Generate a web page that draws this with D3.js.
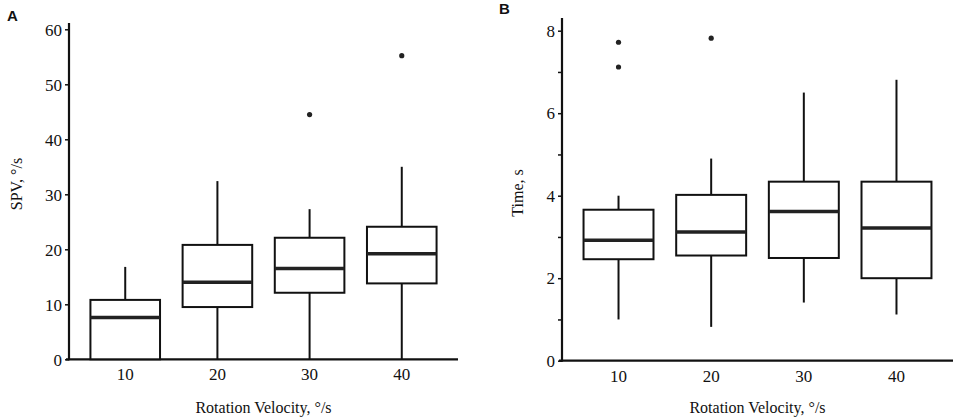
<!DOCTYPE html>
<html>
<head>
<meta charset="utf-8">
<script src="https://cdn.jsdelivr.net/npm/d3@7"></script>
<style>
    body { margin: 0; background: #fff; }
    text { font-family: "Liberation Serif", "DejaVu Serif", serif; fill: #111; }
    .tick text { font-family: "Liberation Serif", "DejaVu Serif", serif; }
    .panel-letter { font-family: "Liberation Sans", Arial, sans-serif; font-weight: bold; }
</style>
</head>
<body>
<div id="chart"></div>
<script>
// categories on the x axis (rotation velocity)
const categories = ["10", "20", "30", "40"];

// panel A: SPV, deg/s
const spvLow = [0, 0, 0, 0];
const spvQ1 = [0, 9.5, 12.1, 13.8];
const spvMedian = [7.6, 14.0, 16.5, 19.2];
const spvQ3 = [10.8, 20.8, 22.1, 24.1];
const spvHigh = [16.8, 32.4, 27.3, 35.0];
const spvOutliers = [["30", 44.5], ["40", 55.2]];
const spvTicks = [0, 10, 20, 30, 40, 50, 60];

// panel B: time, s
const timeLow = [1.0, 0.82, 1.41, 1.12];
const timeQ1 = [2.46, 2.55, 2.49, 2.0];
const timeMedian = [2.92, 3.12, 3.62, 3.22];
const timeQ3 = [3.66, 4.02, 4.34, 4.34];
const timeHigh = [4.0, 4.9, 6.5, 6.81];
const timeOutliers = [["10", 7.72], ["10", 7.12], ["20", 7.82]];
const timeTicks = [0, 1, 2, 3, 4, 5, 6, 7, 8];
const timeTickLabels = [0, 2, 4, 6, 8];

class BoxPlot {
    constructor(svg, config) {
        this.svg = svg;
        this.config = config;

        this.initVis()
    }

    initVis() {
        let vis = this;
        let c = vis.config;

        vis.g = vis.svg.append("g");

        vis.x = d3.scalePoint()
            .domain(categories)
            .range([c.left, c.right])
            .padding(0.61);

        vis.y = d3.scaleLinear()
            .domain([0, c.max])
            .range([c.bottom, c.top]);

        // y axis
        vis.yAxis = d3.axisLeft(vis.y)
            .tickValues(c.ticks)
            .tickSize(4)
            .tickPadding(3)
            .tickFormat(d => c.labels.includes(d) ? d : "");

        vis.g.append("g")
            .attr("transform", `translate(${c.left},0)`)
            .call(vis.yAxis)
            .attr("font-family", null)
            .call(g => g.select(".domain").remove())
            .call(g => g.selectAll(".tick line").attr("stroke", "#111").attr("stroke-width", 1.5))
            .call(g => g.selectAll(".tick text").style("font-size", "17px").attr("dy", "0.34em"));

        // axis lines
        vis.g.append("line")
            .attr("x1", c.left).attr("x2", c.left)
            .attr("y1", c.axisTop).attr("y2", c.bottom + 1)
            .attr("stroke", "#111").attr("stroke-width", 2.2);

        vis.g.append("line")
            .attr("x1", c.left - 3).attr("x2", c.right)
            .attr("y1", c.bottom).attr("y2", c.bottom)
            .attr("stroke", "#111").attr("stroke-width", 2.2);

        // x tick labels
        vis.g.selectAll(".xlabel")
            .data(categories)
            .enter()
            .append("text")
            .attr("class", "xlabel")
            .attr("x", d => vis.x(d))
            .attr("y", c.bottom + 21)
            .attr("text-anchor", "middle")
            .style("font-size", "17px")
            .text(d => d);

        // axis titles
        vis.g.append("text")
            .text("Rotation Velocity, °/s")
            .attr("x", (c.left + c.right) / 2)
            .attr("y", 413)
            .attr("text-anchor", "middle")
            .style("font-size", "16px");

        vis.g.append("text")
            .text(c.yTitle)
            .attr("transform", `translate(${c.yTitleX},${c.yTitleY}) rotate(-90)`)
            .attr("text-anchor", "middle")
            .style("font-size", "16px");

        vis.g.append("text")
            .attr("class", "panel-letter")
            .text(c.letter)
            .attr("x", c.letterX)
            .attr("y", c.letterY)
            .style("font-size", "15px");

        this.wrangleData();
    }

    wrangleData() {
        let vis = this;
        let c = vis.config;
        vis.boxes = categories.map((cat, i) => ({
            cat: cat,
            low: c.low[i],
            q1: c.q1[i],
            median: c.median[i],
            q3: c.q3[i],
            high: c.high[i]
        }));
        vis.updateVis()
    }

    updateVis() {
        let vis = this;
        let bw = vis.x.step() * 0.755;

        let groups = vis.g.selectAll(".box")
            .data(vis.boxes)
            .enter()
            .append("g")
            .attr("class", "box");

        // whiskers
        groups.append("line")
            .attr("x1", d => vis.x(d.cat)).attr("x2", d => vis.x(d.cat))
            .attr("y1", d => vis.y(d.high)).attr("y2", d => vis.y(d.q3))
            .attr("stroke", "#111").attr("stroke-width", 2);

        groups.append("line")
            .attr("x1", d => vis.x(d.cat)).attr("x2", d => vis.x(d.cat))
            .attr("y1", d => vis.y(d.q1)).attr("y2", d => vis.y(d.low))
            .attr("stroke", "#111").attr("stroke-width", 2);

        groups.append("rect")
            .attr("x", d => vis.x(d.cat) - bw / 2)
            .attr("width", bw)
            .attr("y", d => vis.y(d.q3))
            .attr("height", d => vis.y(d.q1) - vis.y(d.q3))
            .attr("fill", "#fff")
            .attr("stroke", "#111")
            .attr("stroke-width", 2);

        groups.append("line")
            .attr("x1", d => vis.x(d.cat) - bw / 2).attr("x2", d => vis.x(d.cat) + bw / 2)
            .attr("y1", d => vis.y(d.median)).attr("y2", d => vis.y(d.median))
            .attr("stroke", "#222").attr("stroke-width", 3.5);

        vis.g.selectAll(".outlier")
            .data(vis.config.outliers)
            .enter()
            .append("circle")
            .attr("class", "outlier")
            .attr("cx", d => vis.x(d[0]))
            .attr("cy", d => vis.y(d[1]))
            .attr("r", 2.6)
            .attr("fill", "#222");
    }
}

let svg = d3.select("#chart").append("svg")
    .attr("width", 957)
    .attr("height", 419);

new BoxPlot(svg, {
    left: 69, right: 458, top: 29.3, bottom: 359.3, axisTop: 23, max: 60,
    ticks: spvTicks, labels: spvTicks,
    low: spvLow, q1: spvQ1, median: spvMedian, q3: spvQ3, high: spvHigh, outliers: spvOutliers,
    yTitle: "SPV, °/s", yTitleX: 22, yTitleY: 184,
    letter: "A", letterX: 7, letterY: 21
});

new BoxPlot(svg, {
    left: 562, right: 953, top: 30.7, bottom: 360.7, axisTop: 18, max: 8,
    ticks: timeTicks, labels: timeTickLabels,
    low: timeLow, q1: timeQ1, median: timeMedian, q3: timeQ3, high: timeHigh, outliers: timeOutliers,
    yTitle: "Time, s", yTitleX: 523, yTitleY: 193,
    letter: "B", letterX: 499, letterY: 14
});
</script>
</body>
</html>
